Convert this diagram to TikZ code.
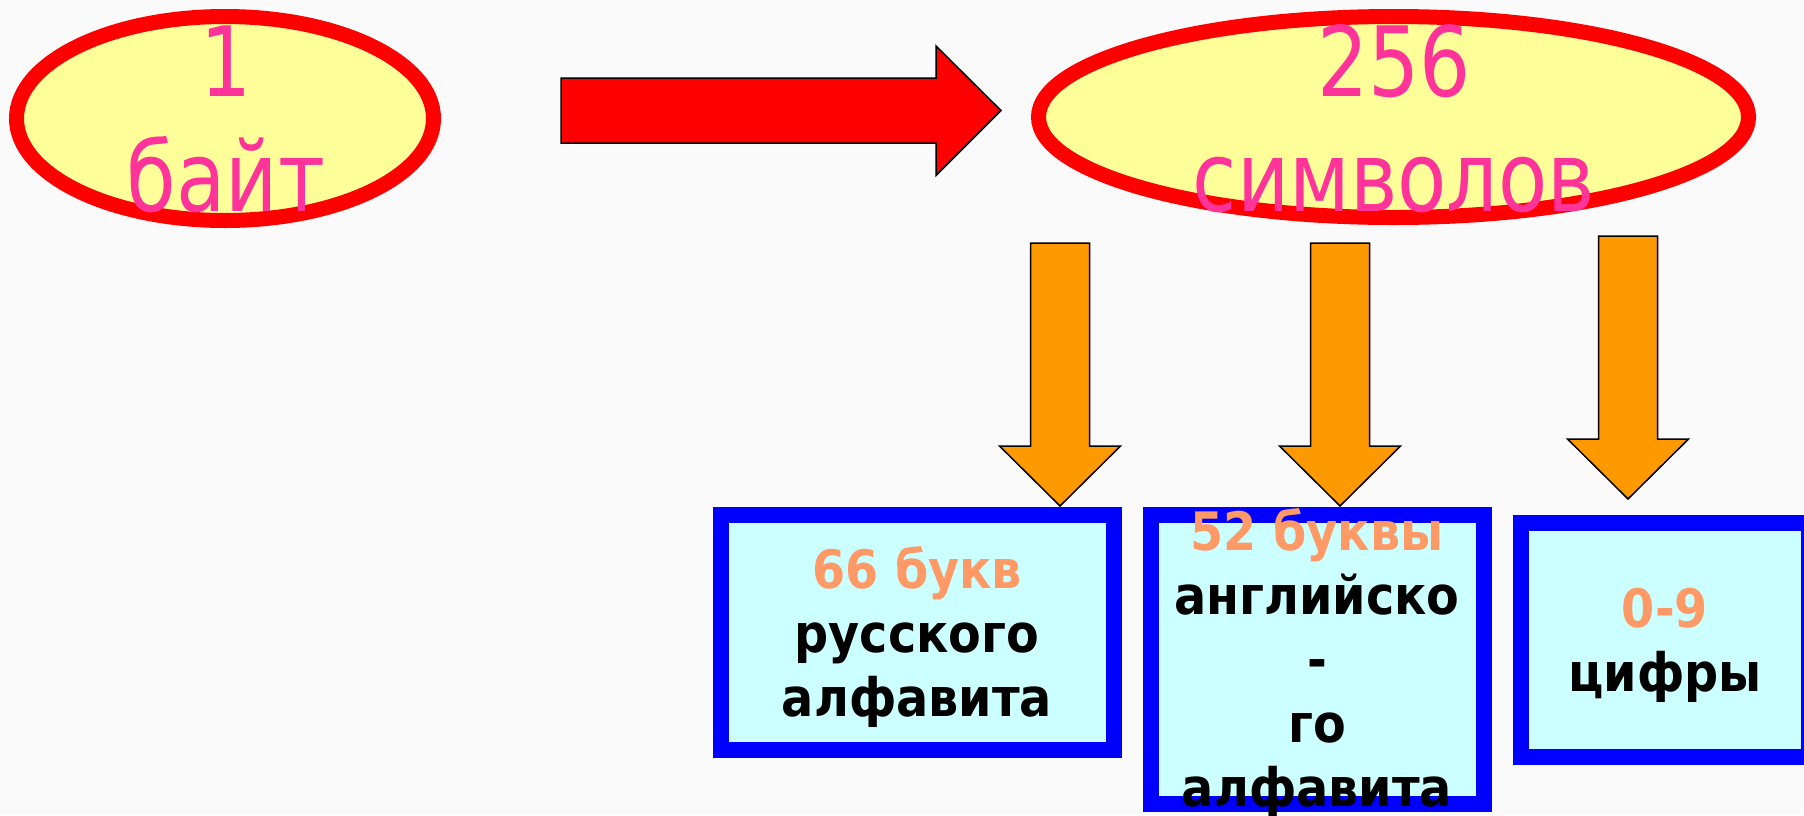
\documentclass[tikz,border=0pt]{standalone}
\usepackage{fontspec}
\setmainfont{DejaVu Sans}
\newfontfamily\ellfont[FakeStretch=0.83]{DejaVu Sans}
\newfontfamily\boxfont[FakeStretch=0.9]{DejaVu Sans}
\usetikzlibrary{shapes.geometric}
\definecolor{bgc}{HTML}{FAFAFA}
\definecolor{ellfill}{HTML}{FFFF99}
\definecolor{ellline}{HTML}{FF0000}
\definecolor{elltxt}{HTML}{FF3399}
\definecolor{boxfill}{HTML}{CCFFFF}
\definecolor{boxline}{HTML}{0000FF}
\definecolor{orangetxt}{HTML}{FF9966}
\definecolor{orangearr}{HTML}{FF9900}
\begin{document}
\begin{tikzpicture}[x=1pt,y=-1pt,
  ell/.style={ellipse, draw=ellline, fill=ellfill, line width=15pt, inner sep=0pt},
  elltext/.style={anchor=base, inner sep=0pt, text=elltxt, font=\ellfont\fontsize{97}{115}\selectfont},
  bluebox/.style={rectangle, draw=boxline, fill=boxfill, line width=16pt, inner sep=0pt},
  boxtext/.style={anchor=base, inner sep=0pt, font=\boxfont\bfseries\fontsize{53}{64}\selectfont},
  redarrow/.style={draw=black, line width=1.5pt, fill=ellline, line join=miter},
  orarrow/.style={draw=black, line width=1.5pt, fill=orangearr, line join=miter},
  downarrow/.pic={\draw[orarrow] (-29.5,0) -- (-29.5,203) -- (-60.5,203) -- (0,263) -- (60.5,203) -- (29.5,203) -- (29.5,0) -- cycle;}
]
\useasboundingbox (0,0) rectangle (1804,815);
\clip (0,0) rectangle (1804,815);
\fill[bgc] (0,0) rectangle (1804,815);

% ellipses
\node[ell, minimum width=417pt, minimum height=204pt] (byte) at (225,118.5) {};
\node[ell, minimum width=710pt, minimum height=201pt] (sym) at (1393.5,117) {};
\node[elltext] (bytetxt) at (226,96) {\begin{tabular}[t]{@{}c@{}}1\\байт\end{tabular}};
\node[elltext] (symtxt) at (1394,96) {\begin{tabular}[t]{@{}c@{}}256\\символов\end{tabular}};

% red arrow
\coordinate (ra) at (561,110.5);
\draw[redarrow] (ra) ++(0,-32.5) -- ++(375,0) -- ++(0,-32) -- ++(65,64.5) -- ++(-65,65) -- ++(0,-32.5) -- ++(-375,0) -- cycle;

% orange arrows
\pic at (1060,243) {downarrow};
\pic at (1340,243) {downarrow};
\pic at (1628,236) {downarrow};

% boxes
\node[bluebox, minimum width=393pt, minimum height=235pt] (rus) at (917.5,632.5) {};
\node[bluebox, minimum width=333pt, minimum height=289pt] (eng) at (1317.5,659.5) {};
\node[bluebox, minimum width=288pt, minimum height=234pt] (dig) at (1665,640) {};

\node[boxtext] (rustxt) at (917,588) {\begin{tabular}[t]{@{}c@{}}\textcolor{orangetxt}{66 букв}\\русского\\алфавита\end{tabular}};
\node[boxtext] (engtxt) at (1317,550) {\begin{tabular}[t]{@{}c@{}}\textcolor{orangetxt}{52 буквы}\\английско\\-\\го\\алфавита\end{tabular}};
\node[boxtext] (digtxt) at (1665,627) {\begin{tabular}[t]{@{}c@{}}\textcolor{orangetxt}{0-9}\\цифры\end{tabular}};
\end{tikzpicture}
\end{document}
